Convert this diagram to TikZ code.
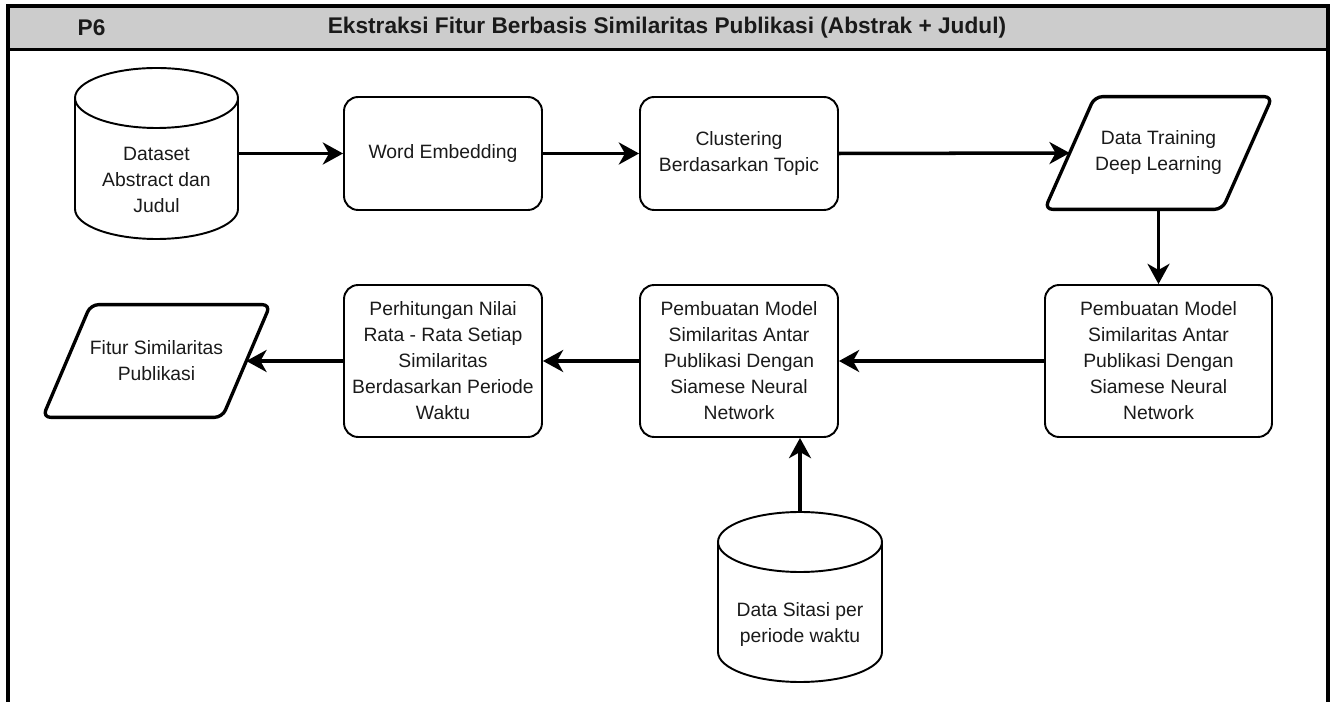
\documentclass[tikz,border=0pt]{standalone}
\usepackage{fontspec}
\setmainfont{Liberation Sans}
\usetikzlibrary{arrows.meta,calc}
\definecolor{headgray}{HTML}{CCCCCC}
\definecolor{ink}{HTML}{1A1A1A}
% database cylinder: centre x, top y, bottom y, x radius, y radius of the caps
\newcommand\drawdb[5]{%
  \draw[line width=1.1pt, fill=white] (#1-#4,#2-#5) -- (#1-#4,#3+#5)
    arc[start angle=180, end angle=360, x radius=#4, y radius=#5] -- (#1+#4,#2-#5);
  \draw[line width=1.1pt] (#1,#2-#5) ellipse[x radius=#4, y radius=#5];
}
% slanted data box drawn around a named node: node name, slant
\newcommand\drawio[2]{%
  \draw[line width=1.9pt, rounded corners=4.5pt, line join=round]
    (#1.south west) -- ($(#1.north west)+(#2,0)$) -- (#1.north east)
    -- ($(#1.south east)-(#2,0)$) -- cycle;
}
\begin{document}
\begin{tikzpicture}[x=0.02cm, y=0.02cm,
  txt/.style={font=\fontsize{11pt}{14.8pt}\selectfont, text=ink, align=center},
  procbox/.style={txt, draw=black, line width=1.1pt, rounded corners=8pt,
    inner sep=0pt, minimum width=3.96cm},
  iobox/.style={txt, inner sep=0pt, minimum width=4.54cm, minimum height=2.24cm},
  dbframe/.style={inner sep=0pt},
  flow/.style={line width=2pt, -{Stealth[length=11.5pt, width=12.5pt, inset=3.5pt]}},
  headtxt/.style={font=\fontsize{12.9pt}{15pt}\selectfont\bfseries, text=ink}
]
\useasboundingbox (0,0) rectangle (1333,-702);

% pool header and frame
\fill[headgray] (8,-6) rectangle (1328,-49.5);
\draw[line width=2.2pt] (8,-702) -- (8,-6) -- (1328,-6) -- (1328,-702);
\draw[line width=2.2pt] (8,-49.5) -- (1328,-49.5);
\node[headtxt] (pid) at (91.5,-28) {P6};
\node[headtxt] (ttl) at (667,-28) {Ekstraksi Fitur Berbasis Similaritas Publikasi (Abstrak + Judul)};

% data stores
\drawdb{156.5}{-68}{-239}{81.5}{30}
\node[dbframe, minimum width=3.26cm, minimum height=3.42cm] (ds) at (156.5,-153.5) {};
\node[txt] (dsText) at (156.5,-180) {Dataset\\Abstract dan\\Judul};

\drawdb{800}{-512}{-682}{82}{30}
\node[dbframe, minimum width=3.28cm, minimum height=3.4cm] (dc) at (800,-597) {};
\node[txt] (dcText) at (800,-624.5) {Data Sitasi per\\periode waktu};

% process steps
\node[procbox, minimum height=2.26cm] (we) at (443,-153.5) {Word Embedding};
\node[procbox, minimum height=2.26cm] (cl) at (739,-153.5) {Clustering\\Berdasarkan Topic};
\node[iobox] (dt) at (1158.5,-153) {Data Training\\Deep Learning};
\drawio{dt}{50}
\coordinate (dtIn) at ($(dt.west)+(25,0)$);

\node[procbox, minimum width=4.54cm, minimum height=3.04cm] (pm2) at (1158.5,-361)
  {Pembuatan Model\\Similaritas Antar\\Publikasi Dengan\\Siamese Neural\\Network};
\node[procbox, minimum height=3.04cm] (pm1) at (739,-361)
  {Pembuatan Model\\Similaritas Antar\\Publikasi Dengan\\Siamese Neural\\Network};
\node[procbox, minimum height=3.04cm] (ph) at (443,-361)
  {Perhitungan Nilai\\Rata - Rata Setiap\\Similaritas\\Berdasarkan Periode\\Waktu};
\node[iobox] (ft) at (156.5,-361) {Fitur Similaritas\\Publikasi};
\drawio{ft}{48}
\coordinate (ftIn) at ($(ft.east)-(24,0)$);

% connectors
\draw[flow] (ds.east) -- (we.west);
\draw[flow] (we) -- (cl);
\draw[flow] (cl.east) -- (dtIn);
\draw[flow] (dt.south) -- (pm2.north);
\draw[flow] (pm2) -- (pm1);
\draw[flow] (pm1) -- (ph);
\draw[flow] (ph.west) -- (ftIn);
\draw[flow] (dc.north) -- (dc.north |- pm1.south);
\end{tikzpicture}
\end{document}
